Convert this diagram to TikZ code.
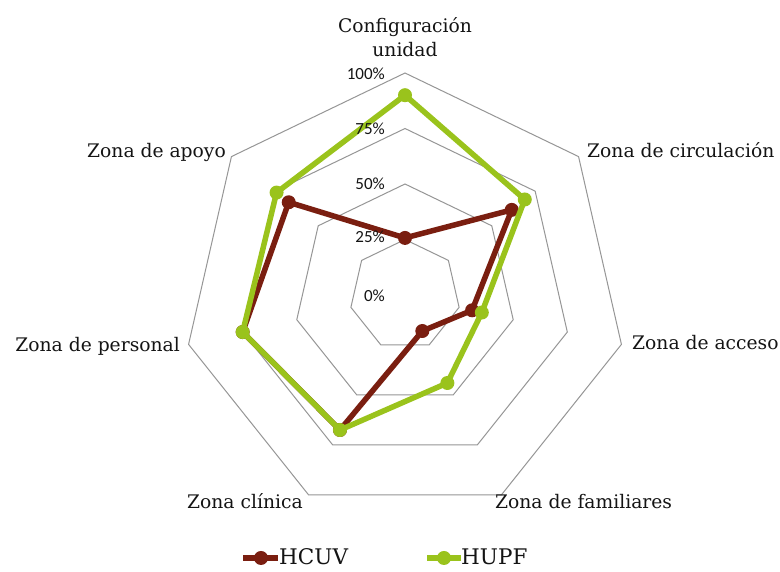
\documentclass[tikz,border=0pt]{standalone}
\usepackage{fontspec}
\setmainfont{DejaVu Serif}
\newfontfamily\pctfont{Carlito}
\definecolor{hcuv}{RGB}{122,30,16}
\definecolor{hupf}{RGB}{154,195,28}
\definecolor{gridc}{RGB}{150,150,150}
\definecolor{txt}{RGB}{20,20,20}
\begin{document}
\begin{tikzpicture}[x=1pt,y=1pt,
  gridline/.style={draw=gridc,line width=1pt,line join=miter},
  lab/.style={inner sep=0pt,text=txt,font=\fontsize{18.7}{23}\selectfont},
  pct/.style={inner sep=0pt,text=txt,anchor=base east,font=\pctfont\fontsize{17}{18}\selectfont},
  leg/.style={inner sep=0pt,text=txt,anchor=base west,font=\fontsize{21.5}{24}\selectfont},
  hline/.style={draw=hcuv,line width=5.5pt,line join=round,line cap=round},
  gline/.style={draw=hupf,line width=5.5pt,line join=round,line cap=round},
  hdot/.style={circle,fill=hcuv,inner sep=0pt,minimum size=14pt},
  gdot/.style={circle,fill=hupf,inner sep=0pt,minimum size=14pt}]
\useasboundingbox (0,0) rectangle (780,572);
\fill[white] (0,0) rectangle (780,572);
\begin{scope}[shift={(405,277)}]
  % grid rings
  \foreach \f in {0.25,0.5,0.75,1}{
    \draw[gridline] (90:{\f*222}) \foreach \k in {1,...,6}{ -- ({90-\k*360/7}:{\f*222}) } -- cycle;
  }
  % data coordinates
  \foreach \v [count=\k from 0] in {25.7,61.5,31,18,67.5,75,67}{
    \coordinate (h\k) at ({90-\k*360/7}:{\v*2.22});
  }
  \foreach \v [count=\k from 0] in {90,69,35.5,44,67.5,75,74}{
    \coordinate (g\k) at ({90-\k*360/7}:{\v*2.22});
  }
\end{scope}
% HCUV series
\draw[hline] (h0) -- (h1) -- (h2) -- (h3) -- (h4) -- (h5) -- (h6) -- cycle;
\foreach \k in {0,...,6}{ \node[hdot] (hm\k) at (h\k) {}; }
% HUPF series
\draw[gline] (g0) -- (g1) -- (g2) -- (g3) -- (g4) -- (g5) -- (g6) -- cycle;
\foreach \k in {0,...,6}{ \node[gdot] (gm\k) at (g\k) {}; }
% percent labels
\node[pct] (p100) at (385,492) {100\%};
\node[pct] (p75) at (385,437) {75\%};
\node[pct] (p50) at (385,382) {50\%};
\node[pct] (p25) at (385,329) {25\%};
\node[pct] (p0) at (385,270) {0\%};
% axis labels
\node[lab,anchor=base] (conf1) at (405,539) {Configuración};
\node[lab,anchor=base] (conf2) at (405,515) {unidad};
\node[lab,anchor=base west] (circ) at (587,414) {Zona de circulación};
\node[lab,anchor=base west] (acc) at (632,222) {Zona de acceso};
\node[lab,anchor=base west] (fam) at (495,63) {Zona de familiares};
\node[lab,anchor=base west] (clin) at (187,63) {Zona clínica};
\node[lab,anchor=base east] (pers) at (180,220) {Zona de personal};
\node[lab,anchor=base east] (apoyo) at (226,414) {Zona de apoyo};
% legend
\coordinate (l1a) at (243,14); \coordinate (l1b) at (278,14);
\draw[hline,line cap=butt] (l1a) -- (l1b);
\node[hdot] (l1m) at (261,14) {};
\node[leg] (l1t) at (279,7) {HCUV};
\coordinate (l2a) at (427,14); \coordinate (l2b) at (461,14);
\draw[gline,line cap=butt] (l2a) -- (l2b);
\node[gdot] (l2m) at (444,14) {};
\node[leg] (l2t) at (461,7) {HUPF};
\end{tikzpicture}
\end{document}
